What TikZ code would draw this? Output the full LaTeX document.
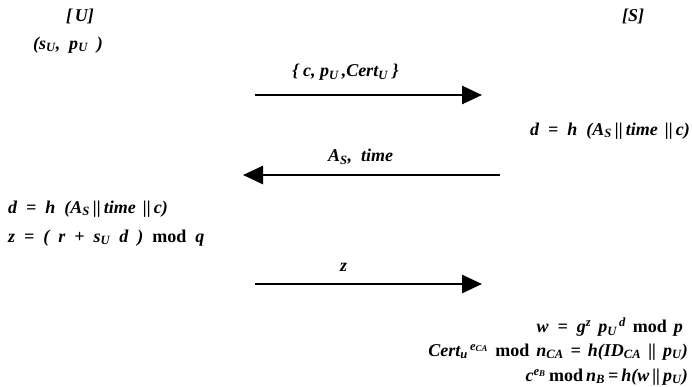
\documentclass[tikz,border=0pt]{standalone}
\usepackage{fontspec}
\setmainfont{Liberation Serif}
\usetikzlibrary{positioning,arrows.meta}
\newcommand{\sbs}[1]{\textsubscript{#1}}
\newcommand{\sps}[1]{\textsuperscript{#1}}
\newcommand{\gap}{\hspace{7pt}}
\newcommand{\wgap}{\hspace{9pt}}
\newcommand{\ngap}{\hspace{3pt}}
\newcommand{\md}{\gap\textup{mod}\gap}

\begin{document}
\begin{tikzpicture}[x=1pt,y=-1pt,
  every node/.style={font=\fontsize{18}{21}\selectfont\bfseries\itshape, inner sep=0pt},
  msg/.style={line width=2.8pt, -{Triangle[length=20pt,width=18pt]}}]
\useasboundingbox (0,0) rectangle (692,386);
% parties
\node (userU) at (80,16) {[\,U]};
\node (keysU) at (68,45) {(s\sbs{U}, \ p\sbs{U} \ )};
\node (serverS) at (633,16) {[S]};
% first message
\coordinate (m1a) at (255,95);
\coordinate (m1b) at (482,95);
\draw[msg] (m1a) -- (m1b) node[midway, above=13pt, xshift=-23pt] (lab1) {\{\ c,\ p\sbs{U}\,,Cert\sbs{U}\ \}};
\node[anchor=east] (dS) at (690,131) {d\wgap=\wgap h\wgap(A\sbs{S}\,||\,time\gap||\,c)};
% second message
\coordinate (m2a) at (500,175);
\coordinate (m2b) at (243,175);
\draw[msg] (m2a) -- (m2b) node[midway, above=9pt, xshift=-11pt] (lab2) {A\sbs{S}, \ time};
\node[anchor=west] (dU) at (8,209) {d\wgap=\wgap h\wgap(A\sbs{S}\,||\,time\gap||\,c)};
\node[anchor=west] (zU) at (8,238) {z\wgap=\wgap(\wgap r\wgap+\wgap s\sbs{U}\wgap d\wgap)\wgap\textup{mod}\wgap q};
% third message
\coordinate (m3a) at (255,284);
\coordinate (m3b) at (482,284);
\draw[msg] (m3a) -- (m3b) node[midway, above=11pt, xshift=-25pt] (lab3) {z};
\node[anchor=east] (wS) at (683,327) {w\wgap=\wgap g\sps{z}\gap p\sbs{U}\sps{\,d}\md p};
\node[anchor=east] (certS) at (688,352) {Cert\sbs{u}\sps{\,e\sbs{CA}}\md n\sbs{CA}\gap=\gap h(ID\sbs{CA}\gap||\gap p\sbs{U})};
\node[anchor=east] (sigS) at (688,377) {c\sps{e\sbs{B}}\ngap\textup{mod}\ngap n\sbs{B}\ngap=\ngap h(w\,||\,p\sbs{U})};
\end{tikzpicture}
\end{document}
